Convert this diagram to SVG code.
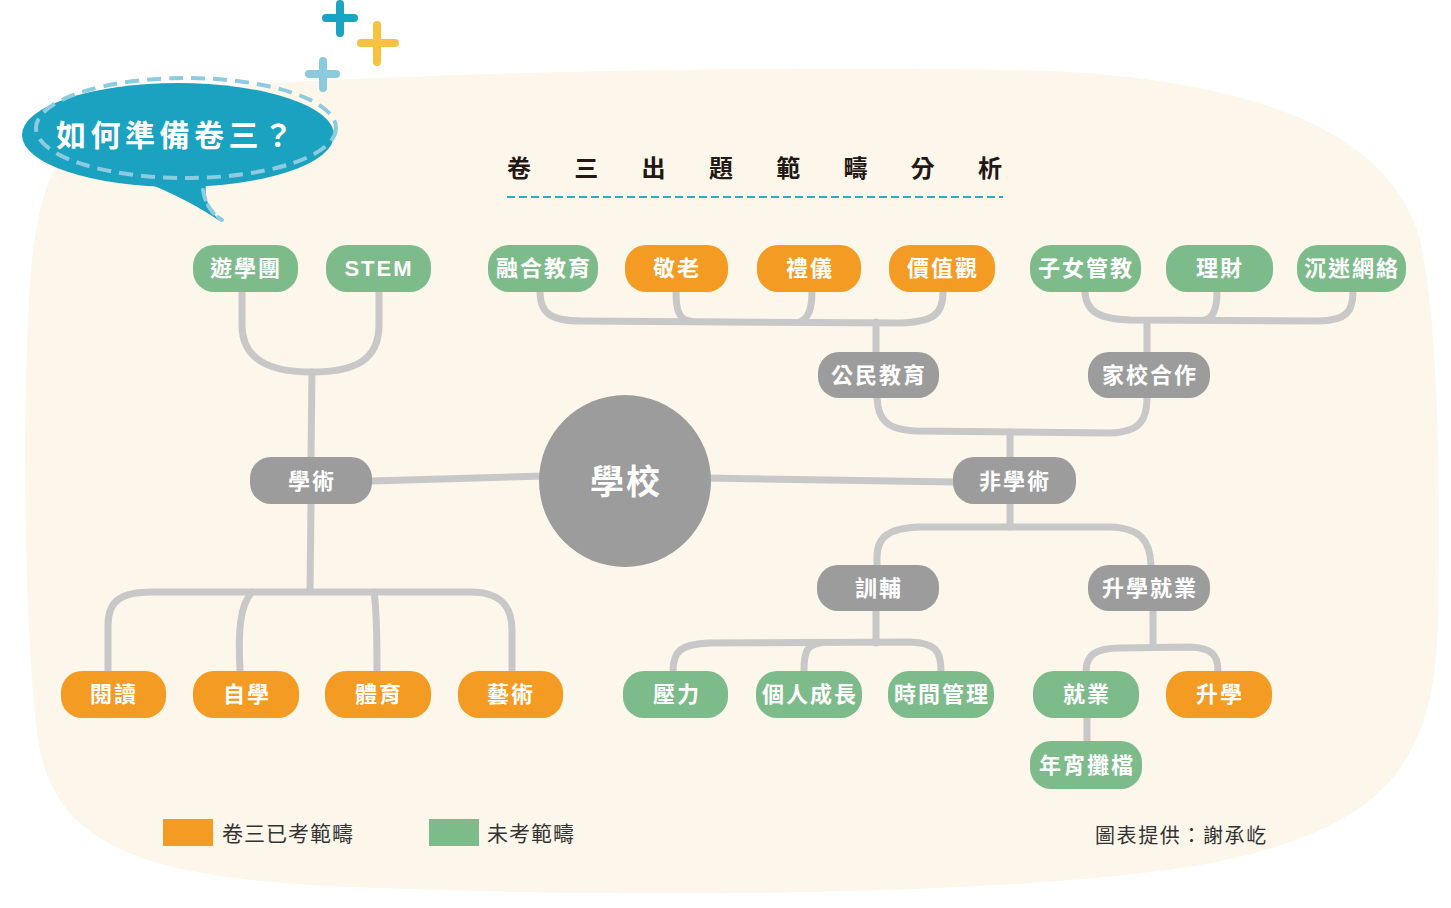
<svg xmlns="http://www.w3.org/2000/svg" width="1451" height="908" viewBox="0 0 1451 908">
<style>
.bg{fill:#FDF6EA}
.n rect{rx:21px;ry:21px}
.g rect{fill:#7DBB8B}
.o rect{fill:#F39B22}
.y rect{fill:#9C9C9C}
.n text{font-family:"Noto Sans CJK TC","Noto Sans CJK SC",sans-serif;font-weight:700;font-size:22px;fill:#fff;text-anchor:middle;letter-spacing:2px}
.c path{fill:none;stroke:#C8C8C8;stroke-width:7;stroke-linecap:round;stroke-linejoin:round}
.plus{fill:none;stroke-width:8;stroke-linecap:round}
.lg{font-family:"Noto Sans CJK TC","Noto Sans CJK SC",sans-serif;font-size:21px;fill:#333;letter-spacing:1px}
</style>
<rect width="1451" height="908" fill="#FFFFFF"/>
<path class="bg" d="M 60 160 C 90 100 200 86 330 80 C 600 68 900 66 1050 71 C 1250 80 1390 130 1420 240 C 1440 330 1440 500 1438 620 C 1435 760 1390 830 1200 865 C 1000 898 600 898 330 886 C 140 876 55 845 38 740 C 22 620 22 350 33 250 C 40 200 48 180 60 160 Z"/>

<!-- decorative plus signs -->
<g id="plus-teal" class="plus" stroke="#1AA4C3"><path d="M 326 18 H 354 M 340 4 V 33"/></g>
<g id="plus-yellow" class="plus" stroke="#F7C23F"><path d="M 361 43 H 395 M 377 25 V 62"/></g>
<g id="plus-light" class="plus" stroke="#8CCBDE"><path d="M 309 74 H 336 M 323 61 V 88"/></g>

<!-- speech bubble -->
<g id="bubble">
<path d="M 140 180 Q 190 200 221 222 Q 203 205 206 184 Z" fill="#1BA2C0"/>
<ellipse cx="178" cy="135" rx="156" ry="52" fill="#1BA2C0"/>
<ellipse cx="186" cy="128" rx="150" ry="50" fill="none" stroke="#8DCBE0" stroke-width="4" stroke-dasharray="14 8"/>
<path d="M 203 190 Q 206 210 222 220" fill="none" stroke="#8DCBE0" stroke-width="4" stroke-dasharray="10 6" stroke-linecap="round"/>
<text x="56" y="146" font-family="'Noto Sans CJK TC','Noto Sans CJK SC',sans-serif" font-size="30" font-weight="700" fill="#FFFFFF" letter-spacing="4.5">如何準備卷三？</text>
</g>

<!-- title -->
<g id="title">
<text x="507" y="177" font-family="'Noto Sans CJK TC','Noto Sans CJK SC',sans-serif" font-size="24" font-weight="700" fill="#231815" letter-spacing="43.3">卷三出題範疇分析</text>
<line x1="507" y1="197" x2="1003" y2="197" stroke="#2BAEC1" stroke-width="2" stroke-dasharray="8 4"/>
</g>

<!-- connectors -->
<g id="connectors" class="c">
<path d="M 242 292 V 325 C 242 360 270 372 312 372 C 355 372 379 360 379 325 V 292"/>
<path d="M 312 372 L 311 457"/>
<path d="M 372 481 L 545 476"/>
<path d="M 705 478 L 955 482"/>
<path d="M 311 504 L 310 591"/>
<path d="M 108 671 V 625 C 108 600 122 592 152 592 L 470 592 C 500 592 512 605 512 630 V 671"/>
<path d="M 240 671 C 238 630 240 605 252 592"/>
<path d="M 377 671 C 377 630 376 605 374 592"/>
<path d="M 1010 457 V 432"/>
<path d="M 877 398 C 878 420 887 430 917 431 L 1110 433 C 1140 432 1147 420 1147 398"/>
<path d="M 876 352 V 322"/>
<path d="M 540 292 C 540 314 552 321 582 321 L 900 323 C 934 322 943 314 943 292"/>
<path d="M 676 292 C 676 310 679 320 690 321"/>
<path d="M 812 292 C 812 310 808 318 800 322"/>
<path d="M 1147 352 V 321"/>
<path d="M 1085 292 C 1086 312 1100 319 1130 320 L 1320 321 C 1346 320 1353 312 1353 292"/>
<path d="M 1217 292 C 1217 310 1213 318 1205 320"/>
<path d="M 1010 504 V 527"/>
<path d="M 877 565 V 557 C 877 536 890 528 920 527 L 1110 527 C 1140 528 1150 540 1151 565"/>
<path d="M 876 611 V 643"/>
<path d="M 673 671 C 673 651 681 644 710 643 L 910 642 C 935 643 941 650 941 671"/>
<path d="M 804 671 C 804 651 807 645 820 643"/>
<path d="M 1153 611 V 647"/>
<path d="M 1086 671 C 1086 655 1096 648 1120 648 L 1190 647 C 1212 648 1218 655 1218 671"/>
<path d="M 1087 718 V 741"/>
</g>

<!-- central node -->
<g id="node-school">
<circle cx="625" cy="481" r="86" fill="#9C9C9C"/>
<text x="626" y="494" font-family="'Noto Sans CJK TC','Noto Sans CJK SC',sans-serif" font-weight="700" font-size="34" fill="#FFFFFF" text-anchor="middle" letter-spacing="2">學校</text>
</g>

<!-- row 1 -->
<g id="node-youxuetuan" class="n g"><rect x="193" y="245" width="105" height="47"/><text x="246" y="276">遊學團</text></g>
<g id="node-stem" class="n g"><rect x="326" y="245" width="105" height="47"/><text x="379" y="276" style="font-family:'Liberation Sans',Arial,sans-serif">STEM</text></g>
<g id="node-ronghe" class="n g"><rect x="488" y="245" width="110" height="47"/><text x="544" y="276">融合教育</text></g>
<g id="node-jinglao" class="n o"><rect x="625" y="245" width="103" height="47"/><text x="677" y="276">敬老</text></g>
<g id="node-liyi" class="n o"><rect x="757" y="245" width="104" height="47"/><text x="810" y="276">禮儀</text></g>
<g id="node-jiazhiguan" class="n o"><rect x="889" y="245" width="106" height="47"/><text x="943" y="276">價值觀</text></g>
<g id="node-zinv" class="n g"><rect x="1030" y="245" width="111" height="47"/><text x="1086" y="276">子女管教</text></g>
<g id="node-licai" class="n g"><rect x="1166" y="245" width="107" height="47"/><text x="1220" y="276">理財</text></g>
<g id="node-chenmi" class="n g"><rect x="1297" y="245" width="109" height="47"/><text x="1352" y="276">沉迷網絡</text></g>

<!-- row 2 -->
<g id="node-gongmin" class="n y"><rect x="818" y="352" width="121" height="46"/><text x="879" y="383">公民教育</text></g>
<g id="node-jiaxiao" class="n y"><rect x="1088" y="352" width="122" height="46"/><text x="1150" y="383">家校合作</text></g>

<!-- row 3 -->
<g id="node-xueshu" class="n y"><rect x="250" y="457" width="122" height="47"/><text x="312" y="489">學術</text></g>
<g id="node-feixueshu" class="n y"><rect x="953" y="457" width="123" height="47"/><text x="1015" y="489">非學術</text></g>

<!-- row 4 -->
<g id="node-xunfu" class="n y"><rect x="817" y="565" width="122" height="46"/><text x="879" y="596">訓輔</text></g>
<g id="node-shengxuejiuye" class="n y"><rect x="1088" y="565" width="122" height="46"/><text x="1150" y="596">升學就業</text></g>

<!-- row 5 -->
<g id="node-yuedu" class="n o"><rect x="61" y="671" width="105" height="47"/><text x="114" y="702">閱讀</text></g>
<g id="node-zixue" class="n o"><rect x="193" y="671" width="106" height="47"/><text x="247" y="702">自學</text></g>
<g id="node-tiyu" class="n o"><rect x="325" y="671" width="106" height="47"/><text x="379" y="702">體育</text></g>
<g id="node-yishu" class="n o"><rect x="458" y="671" width="105" height="47"/><text x="511" y="702">藝術</text></g>
<g id="node-yali" class="n g"><rect x="623" y="671" width="105" height="47"/><text x="677" y="702">壓力</text></g>
<g id="node-geren" class="n g"><rect x="756" y="671" width="106" height="47"/><text x="810" y="702">個人成長</text></g>
<g id="node-shijian" class="n g"><rect x="888" y="671" width="106" height="47"/><text x="942" y="702">時間管理</text></g>
<g id="node-jiuye" class="n g"><rect x="1033" y="671" width="106" height="47"/><text x="1087" y="702">就業</text></g>
<g id="node-shengxue" class="n o"><rect x="1166" y="671" width="106" height="47"/><text x="1220" y="702">升學</text></g>

<!-- row 6 -->
<g id="node-nianxiao" class="n g"><rect x="1030" y="741" width="112" height="48"/><text x="1087" y="773">年宵攤檔</text></g>

<!-- legend -->
<g id="legend">
<rect x="163" y="819" width="50" height="27" fill="#F39B22"/>
<text class="lg" x="222" y="841">卷三已考範疇</text>
<rect x="429" y="819" width="50" height="27" fill="#7DBB8B"/>
<text class="lg" x="487" y="841">未考範疇</text>
</g>

<text id="credit" x="1095" y="843" font-family="'Noto Sans CJK TC','Noto Sans CJK SC',sans-serif" font-size="20" fill="#333" letter-spacing="1.6">圖表提供：謝承屹</text>
</svg>
